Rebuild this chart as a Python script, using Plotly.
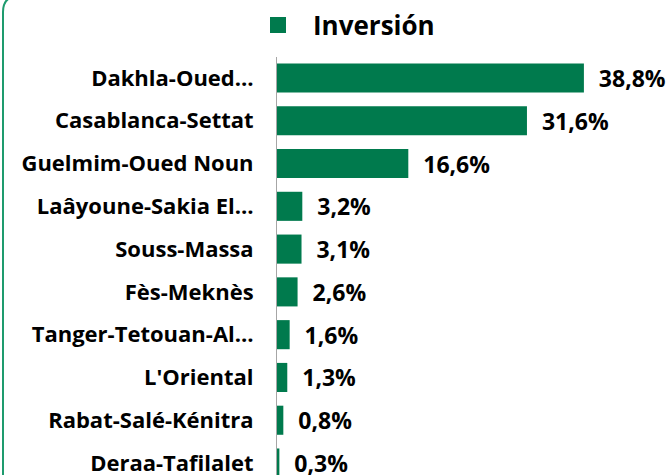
import plotly.graph_objects as go

regions = ["Dakhla-Oued…", "Casablanca-Settat", "Guelmim-Oued Noun", "Laâyoune-Sakia El…",
           "Souss-Massa", "Fès-Meknès", "Tanger-Tetouan-Al…", "L'Oriental",
           "Rabat-Salé-Kénitra", "Deraa-Tafilalet"]
inversion = [38.8, 31.6, 16.6, 3.2, 3.1, 2.6, 1.6, 1.3, 0.8, 0.3]
series_name = "Inversión"

W, H = 672, 475
L, R, T, B = 277, 0, 57, 0
PW, PH = W - L - R, H - T - B

def px(x):
    return (x - L) / PW

def py(y):
    return (H - B - y) / PH

GREEN = "#007A4D"
FONT = "Open Sans"

fig = go.Figure()
fig.add_trace(go.Bar(
    y=regions, x=inversion, orientation="h",
    marker=dict(color=GREEN, line=dict(width=0)),
    texttemplate="\u00a0\u00a0%{x:.1f}%", textposition="outside",
    textfont=dict(family=FONT, size=23, color="#000000", weight="bold"),
    constraintext="none",
    cliponaxis=False, showlegend=False, width=0.68,
))
fig.add_trace(go.Scatter(
    x=[None], y=[None], mode="markers", name=series_name,
    marker=dict(symbol="square", size=17, color=GREEN),
    showlegend=True,
))

border = (f"M {px(3)},{py(490)} L {px(3)},{py(12)} "
          f"Q {px(3)},{py(-4)} {px(19)},{py(-4)} L {px(700)},{py(-4)}")

fig.update_layout(
    width=W, height=H,
    margin=dict(l=L, r=R, t=T, b=B, autoexpand=False),
    paper_bgcolor="white", plot_bgcolor="white",
    separators=",.",
    font=dict(family=FONT, color="#000000"),
    xaxis=dict(range=[0, PW / 7.91], visible=False, showgrid=False, zeroline=False),
    yaxis=dict(range=[9.28, -0.49], showline=True, linecolor="#A6A6A6", linewidth=1,
               showgrid=False, zeroline=False, ticks="", ticklabelstandoff=18,
               tickfont=dict(family=FONT, size=22, color="#000000", weight="bold")),
    legend=dict(orientation="h", x=px(243), y=py(25), xanchor="left", yanchor="middle",
                font=dict(family=FONT, size=26, color="#000000", weight="bold"),
                itemwidth=60, bgcolor="rgba(0,0,0,0)"),
    shapes=[dict(type="path", path=border, xref="paper", yref="paper",
                 line=dict(color="#1E9B6E", width=2), layer="above")],
)

fig.write_html("out.html", config={"displayModeBar": False},
               post_script="document.body.style.margin='0px';")
